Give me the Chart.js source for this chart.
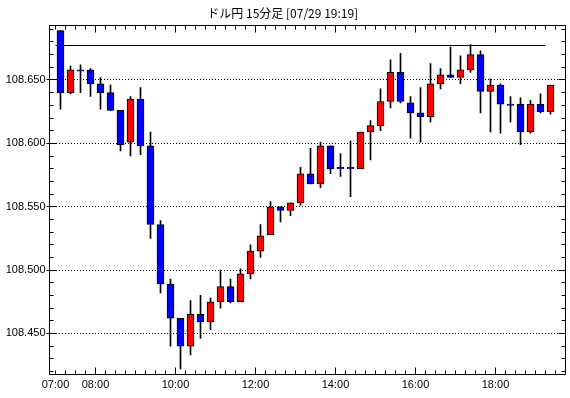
<!DOCTYPE html>
<html>
<head>
<meta charset="utf-8">
<script src="https://cdn.jsdelivr.net/npm/chart.js@4.4.1/dist/chart.umd.min.js"></script>
<style>
  html, body { margin: 0; padding: 0; background: #fff; }
  canvas { display: block; }
</style>
</head>
<body>
<canvas id="myChart" width="570" height="398"></canvas>
<script>
// 15-minute candles, USD/JPY
const times = ['07:00','07:15','07:30','07:45','08:00','08:15','08:30','08:45',
  '09:00','09:15','09:30','09:45','10:00','10:15','10:30','10:45',
  '11:00','11:15','11:30','11:45','12:00','12:15','12:30','12:45',
  '13:00','13:15','13:30','13:45','14:00','14:15','14:30','14:45',
  '15:00','15:15','15:30','15:45','16:00','16:15','16:30','16:45',
  '17:00','17:15','17:30','17:45','18:00','18:15','18:30','18:45',
  '19:00','19:15'];
const opens = [108.689,108.640,108.658,108.658,108.647,108.640,108.626,108.601,
  108.635,108.598,108.536,108.489,108.462,108.440,108.465,108.459,
  108.475,108.487,108.475,108.497,108.515,108.528,108.550,108.547,
  108.553,108.576,108.568,108.598,108.581,108.581,108.580,108.609,
  108.614,108.633,108.656,108.632,108.624,108.621,108.647,108.654,
  108.652,108.658,108.670,108.641,108.646,108.631,108.631,108.609,
  108.631,108.625];
const highs = [108.689,108.661,108.662,108.659,108.652,108.646,108.626,108.637,
  108.644,108.609,108.539,108.493,108.462,108.476,108.480,108.478,
  108.500,108.493,108.501,108.520,108.536,108.554,108.550,108.553,
  108.581,108.596,108.601,108.598,108.592,108.602,108.609,108.618,
  108.643,108.666,108.671,108.637,108.644,108.663,108.659,108.676,
  108.669,108.678,108.673,108.651,108.647,108.637,108.636,108.634,
  108.639,108.646];
const lows = [108.627,108.639,108.640,108.637,108.627,108.626,108.594,108.590,
  108.591,108.525,108.482,108.440,108.422,108.433,108.446,108.453,
  108.470,108.474,108.475,108.493,108.510,108.528,108.538,108.543,
  108.551,108.568,108.565,108.576,108.574,108.558,108.580,108.587,
  108.610,108.628,108.632,108.604,108.601,108.617,108.643,108.652,
  108.647,108.656,108.624,108.609,108.608,108.617,108.599,108.608,
  108.624,108.623];
const closes = [108.640,108.658,108.657,108.647,108.640,108.626,108.599,108.635,
  108.598,108.536,108.489,108.462,108.440,108.465,108.459,108.475,
  108.487,108.475,108.497,108.515,108.527,108.550,108.547,108.553,
  108.576,108.568,108.598,108.580,108.580,108.580,108.609,108.614,
  108.633,108.656,108.633,108.624,108.621,108.647,108.654,108.652,
  108.658,108.670,108.641,108.646,108.631,108.630,108.609,108.631,
  108.625,108.646];

const lineLevel = 108.6772;
const lineFrom = '07:00';
const lineTo = '19:15';

const yTicks = [108.45, 108.50, 108.55, 108.60, 108.65];
const xTickLabels = ['07:00', '08:00', '10:00', '12:00', '14:00', '16:00', '18:00'];
const titleText = 'ドル円 15分足 [07/29 19:19]';

const toMin = t => { const p = t.split(':'); return +p[0] * 60 + +p[1]; };
const xTickValues = xTickLabels.map(toMin);
const centers = times.map(t => toMin(t) + 7.5);

const wicks = centers.map((x, i) => ({ x: x, y: [lows[i], highs[i]] }));
const bodies = centers.map((x, i) => ({ x: x, y: [opens[i], closes[i]] }));
const bodyColors = opens.map((o, i) => closes[i] > o ? '#ff0000' : '#0000ff');

// inward ticks on all four sides plus the solid frame
const frameTicks = {
  id: 'frameTicks',
  afterDraw(chart) {
    const { ctx, chartArea: a, scales: { x, y } } = chart;
    const L = Math.floor(a.left) + 0.5, R = Math.floor(a.right) + 0.5;
    const T = Math.floor(a.top) + 0.5, B = Math.floor(a.bottom) + 0.5;
    ctx.save();
    ctx.strokeStyle = '#000';
    ctx.lineWidth = 1;
    ctx.beginPath();
    ctx.rect(L, T, R - L, B - T);
    for (let m = 420; m <= 1170; m += 15) {
      const px = Math.floor(x.getPixelForValue(m)) + 0.5;
      const len = xTickValues.includes(m) && m !== 420 ? 7 : 4;
      ctx.moveTo(px, B); ctx.lineTo(px, B - len);
      ctx.moveTo(px, T); ctx.lineTo(px, T + len);
    }
    for (let i = 42; i <= 69; i++) {
      const py = Math.floor(y.getPixelForValue(108 + i / 100)) + 0.5;
      const major = i % 5 === 0;
      const len = major ? 7 : 4;
      ctx.moveTo(L - (major ? 3 : 0), py); ctx.lineTo(L + len, py);
      ctx.moveTo(R, py); ctx.lineTo(R - len, py);
    }
    ctx.stroke();
    ctx.restore();
  }
};

Chart.defaults.font.family = 'Liberation Sans';
Chart.defaults.color = '#000';

const ctx1 = document.getElementById('myChart');
const myChart = new Chart(ctx1, {
  type: 'bar',
  data: {
    datasets: [{
      type: 'line',
      data: [{ x: toMin(lineFrom), y: lineLevel }, { x: toMin(lineTo), y: lineLevel }],
      borderColor: '#000',
      borderWidth: 1,
      pointRadius: 0,
      order: 3
    }, {
      data: wicks,
      backgroundColor: '#000',
      borderWidth: 0,
      barThickness: 1,
      grouped: false,
      order: 2
    }, {
      data: bodies,
      backgroundColor: bodyColors,
      borderColor: '#000',
      borderWidth: 1,
      borderSkipped: false,
      barThickness: 7,
      grouped: false,
      order: 1
    }]
  },
  options: {
    responsive: false,
    animation: false,
    events: [],
    layout: { padding: { left: 0, right: 4.5, top: 0, bottom: 0 } },
    plugins: {
      legend: { display: false },
      tooltip: { enabled: false },
      title: {
        display: true,
        text: titleText,
        color: '#000',
        font: { family: 'Noto Sans CJK JP', size: 12, weight: 'normal', lineHeight: 1.2 },
        padding: { top: 6, bottom: 4.6 }
      }
    },
    scales: {
      x: {
        type: 'linear',
        min: 411,
        max: 1185,
        offset: false,
        afterFit: s => { s.height = 24; },
        afterBuildTicks: s => { s.ticks = xTickValues.map(v => ({ value: v })); },
        ticks: {
          autoSkip: false,
          maxRotation: 0,
          padding: 4,
          font: { size: 11 },
          callback: (v, i) => xTickLabels[i]
        },
        grid: { display: false, drawTicks: false },
        border: { display: false }
      },
      y: {
        min: 108.418,
        max: 108.6934,
        afterFit: s => { s.width = 49.5; },
        afterBuildTicks: s => { s.ticks = yTicks.map(v => ({ value: v })); },
        ticks: {
          padding: 4,
          font: { size: 11 },
          callback: v => v.toFixed(3)
        },
        grid: { color: '#000', lineWidth: 1, drawTicks: false },
        border: { display: false, dash: [1, 2] }
      }
    }
  },
  plugins: [frameTicks]
});
</script>
</body>
</html>
